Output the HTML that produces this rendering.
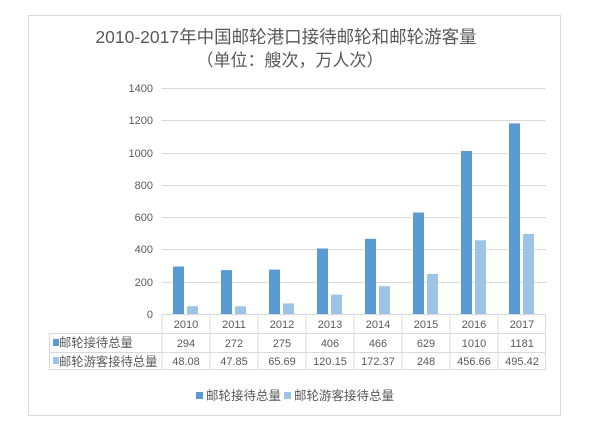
<!DOCTYPE html>
<html><head><meta charset="utf-8"><style>
html,body{margin:0;padding:0;background:#fff;}
svg{display:block;font-family:"Liberation Sans","Noto Sans CJK SC",sans-serif;}
</style></head><body>
<svg width="600" height="432" viewBox="0 0 600 432" xmlns="http://www.w3.org/2000/svg">
<rect x="28.5" y="15.5" width="532" height="400" fill="#fff" stroke="#d9d9d9"/>
<text x="286" y="43" text-anchor="middle" font-size="17.5" fill="#595959">2010-2017年中国邮轮港口接待邮轮和邮轮游客量</text>
<text x="290" y="66" text-anchor="middle" font-size="17" fill="#595959">（单位：艘次，万人次）</text>
<g stroke="#d9d9d9" stroke-width="1">
<line x1="162" x2="546" y1="88.5" y2="88.5"/>
<line x1="162" x2="546" y1="120.5" y2="120.5"/>
<line x1="162" x2="546" y1="153.5" y2="153.5"/>
<line x1="162" x2="546" y1="185.5" y2="185.5"/>
<line x1="162" x2="546" y1="217.5" y2="217.5"/>
<line x1="162" x2="546" y1="249.5" y2="249.5"/>
<line x1="162" x2="546" y1="282.5" y2="282.5"/>
</g>
<g font-size="11" fill="#595959" text-anchor="end">
<text x="153" y="92">1400</text><text x="153" y="124">1200</text><text x="153" y="157">1000</text>
<text x="153" y="189">800</text><text x="153" y="221">600</text><text x="153" y="253">400</text>
<text x="153" y="286">200</text><text x="153" y="318">0</text>
</g>
<g fill="#5b9bd5">
<rect x="173" y="266.5" width="11" height="47.5"/>
<rect x="221" y="270.1" width="11" height="43.9"/>
<rect x="269" y="269.6" width="11" height="44.4"/>
<rect x="317" y="248.5" width="11" height="65.5"/>
<rect x="365" y="238.8" width="11" height="75.2"/>
<rect x="413" y="212.5" width="11" height="101.5"/>
<rect x="461" y="151" width="11" height="163"/>
<rect x="509" y="123.4" width="11" height="190.6"/>
</g>
<g fill="#9dc3e6">
<rect x="187" y="306.2" width="11" height="7.8"/>
<rect x="235" y="306.3" width="11" height="7.7"/>
<rect x="283" y="303.4" width="11" height="10.6"/>
<rect x="331" y="294.6" width="11" height="19.4"/>
<rect x="379" y="286.2" width="11" height="27.8"/>
<rect x="427" y="274" width="11" height="40"/>
<rect x="475" y="240.3" width="11" height="73.7"/>
<rect x="523" y="234" width="11" height="80"/>
</g>
<g stroke="#d9d9d9" stroke-width="1" fill="none">
<line x1="162" x2="546" y1="314.5" y2="314.5"/>
<line x1="49" x2="546" y1="333.5" y2="333.5"/>
<line x1="49" x2="546" y1="352.5" y2="352.5"/>
<line x1="49" x2="546" y1="369.5" y2="369.5"/>
<line x1="49.5" x2="49.5" y1="333" y2="370"/>
<line x1="162" x2="162" y1="314" y2="370"/>
<line x1="210" x2="210" y1="314" y2="370"/>
<line x1="258" x2="258" y1="314" y2="370"/>
<line x1="306" x2="306" y1="314" y2="370"/>
<line x1="354" x2="354" y1="314" y2="370"/>
<line x1="402" x2="402" y1="314" y2="370"/>
<line x1="450" x2="450" y1="314" y2="370"/>
<line x1="498" x2="498" y1="314" y2="370"/>
<line x1="545.5" x2="545.5" y1="314" y2="370"/>
</g>
<rect x="53" y="339" width="6" height="7" fill="#5b9bd5"/>
<rect x="53" y="357" width="6" height="7" fill="#9dc3e6"/>
<g font-size="12.3" fill="#595959">
<text x="59" y="347">邮轮接待总量</text>
<text x="59" y="366">邮轮游客接待总量</text>
</g>
<g font-size="11" fill="#595959" text-anchor="middle">
<text x="186" y="328">2010</text><text x="234" y="328">2011</text><text x="282" y="328">2012</text><text x="330" y="328">2013</text>
<text x="378" y="328">2014</text><text x="426" y="328">2015</text><text x="474" y="328">2016</text><text x="522" y="328">2017</text>
<text x="186" y="347">294</text><text x="234" y="347">272</text><text x="282" y="347">275</text><text x="330" y="347">406</text>
<text x="378" y="347">466</text><text x="426" y="347">629</text><text x="474" y="347">1010</text><text x="522" y="347">1181</text>
<text x="186" y="365">48.08</text><text x="234" y="365">47.85</text><text x="282" y="365">65.69</text><text x="330" y="365">120.15</text>
<text x="378" y="365">172.37</text><text x="426" y="365">248</text><text x="474" y="365">456.66</text><text x="522" y="365">495.42</text>
</g>
<rect x="196" y="392" width="7" height="7" fill="#5b9bd5"/>
<text x="206" y="400" font-size="12.5" fill="#595959">邮轮接待总量</text>
<rect x="284" y="392" width="7" height="7" fill="#9dc3e6"/>
<text x="294" y="400" font-size="12.5" fill="#595959">邮轮游客接待总量</text>
</svg>
</body></html>
